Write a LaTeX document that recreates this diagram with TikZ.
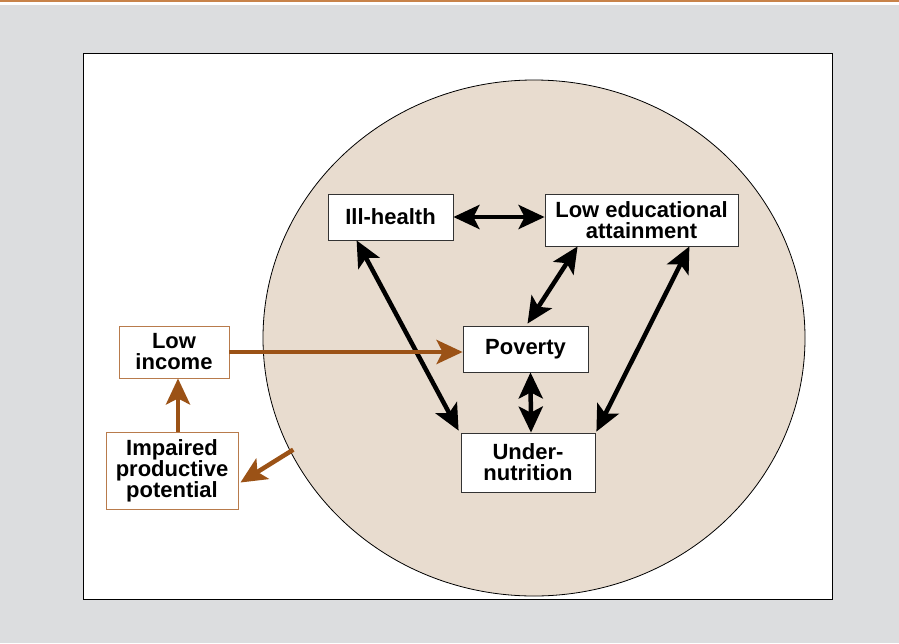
\documentclass[tikz,border=0pt]{standalone}
\usepackage{fontspec}
\setmainfont{Liberation Sans}
\usetikzlibrary{arrows.meta,shapes.geometric,calc}
\definecolor{bggray}{HTML}{DCDDDF}
\definecolor{topline}{HTML}{C8834A}
\definecolor{ellfill}{HTML}{E8DCCF}
\definecolor{brownarrow}{HTML}{9B5216}
\definecolor{brownbox}{HTML}{B87B4C}
\tikzset{
  txt/.style={font=\fontsize{22}{21}\selectfont\bfseries, align=center, inner sep=0pt},
  bbox/.style={txt, draw=black!80, line width=0.8pt, fill=white},
  obox/.style={txt, draw=brownbox, line width=0.9pt, fill=white},
  blk/.style={line width=4.5pt, {Stealth[length=26pt,width=24pt,inset=6pt]}-{Stealth[length=26pt,width=24pt,inset=6pt]}},
  brw/.style={line width=4.5pt, draw=brownarrow, -{Stealth[length=26pt,width=24pt,inset=6pt]}, color=brownarrow}
}
\begin{document}
\begin{tikzpicture}[x=1pt,y=-1pt]
\useasboundingbox (0,0) rectangle (899,643);
\fill[white] (0,0) rectangle (899,643);
\fill[bggray] (0,5) rectangle (899,643);
\draw[topline, line width=1.6pt] (0,1) -- (899,1);
\draw[fill=white, line width=1pt] (83,53) rectangle (832,599);
\node[ellipse, draw=black, line width=0.8pt, fill=ellfill, minimum width=542pt, minimum height=516pt, inner sep=0pt] (ell) at (534,338) {};

\node[bbox, minimum width=125pt, minimum height=46pt] (ill) at (390.5,217) {Ill-health};
\node[bbox, minimum width=193pt, minimum height=52pt] (led) at (641.5,220) {Low educational\\attainment};
\node[bbox, minimum width=125pt, minimum height=46pt] (pov) at (525.5,349) {Poverty};
\node[bbox, minimum width=134pt, minimum height=59pt] (und) at (528,462.5) {Under-\\nutrition};
\node[obox, minimum width=110pt, minimum height=52pt] (inc) at (174,352) {Low\\income};
\node[obox, minimum width=132pt, minimum height=77pt] (imp) at (172,470.5) {Impaired\\productive\\potential};

\draw[blk] (ill.east) -- (ill.east -| led.west);
\draw[blk] ([xshift=29pt]ill.south west) -- ([xshift=-2pt,yshift=2pt]und.north west);
\draw[blk] ([xshift=33pt]led.south west) -- ([xshift=2pt,yshift=2pt]pov.north);
\draw[blk] ([xshift=-49pt]led.south east) -- ([xshift=1pt,yshift=1pt]und.north east);
\draw[blk] ([xshift=5pt]pov.south) -- ([xshift=3pt]und.north);

\draw[brw] (inc.east) -- (inc.east -| pov.west);
\draw[brw] ([xshift=6pt]imp.north) -- ([xshift=4pt]inc.south);
\draw[brw] ([xshift=3pt,yshift=2pt]ell.205) -- ([xshift=2pt,yshift=-12pt]imp.east);
\end{tikzpicture}
\end{document}
